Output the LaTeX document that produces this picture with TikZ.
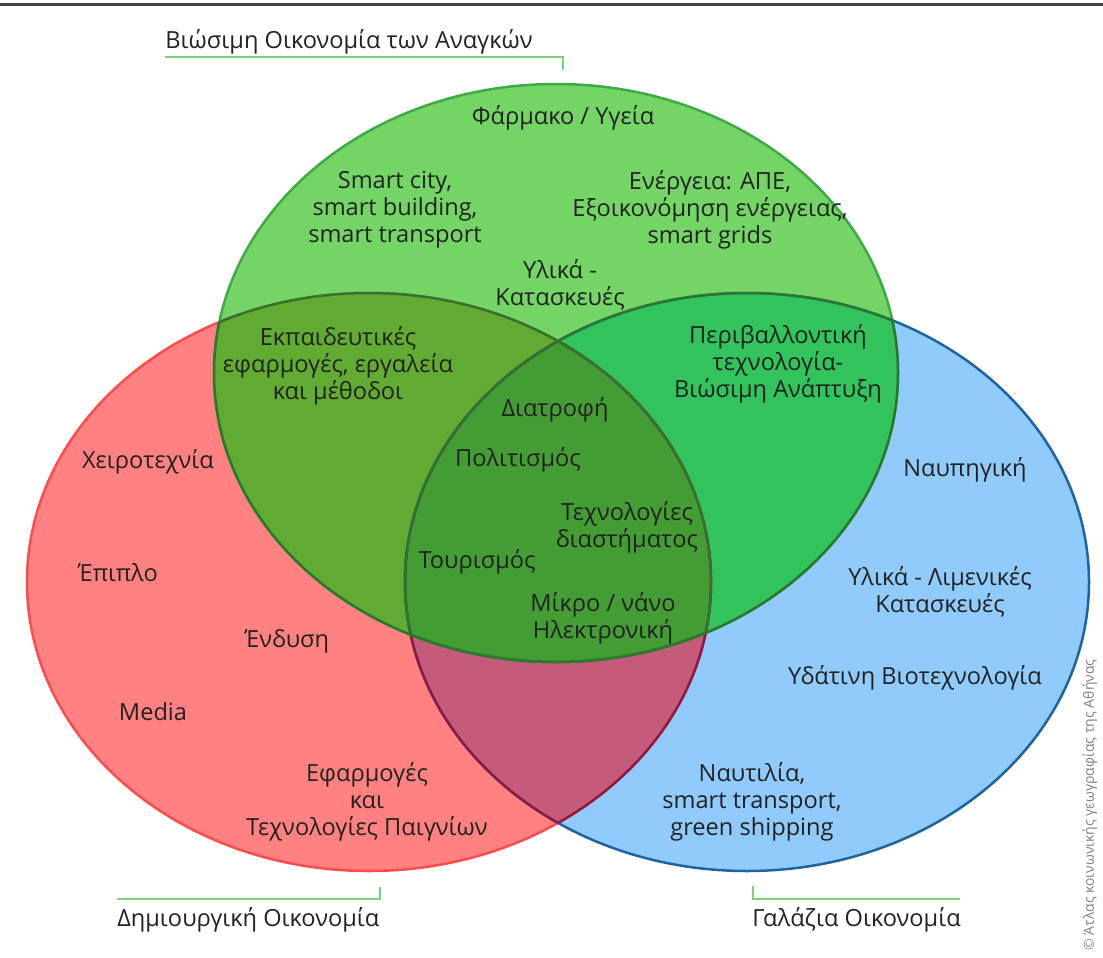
\documentclass[tikz,border=0pt]{standalone}
\usepackage{fontspec}
\setmainfont{Open Sans}
\usetikzlibrary{positioning}
\definecolor{greenOnly}{HTML}{74D466}
\definecolor{redOnly}{HTML}{FF8181}
\definecolor{blueOnly}{HTML}{91CBFB}
\definecolor{greenRed}{HTML}{62AB33}
\definecolor{greenBlue}{HTML}{32C35C}
\definecolor{redBlue}{HTML}{C55A7B}
\definecolor{allThree}{HTML}{449C35}
\definecolor{greenEdge}{HTML}{3DAA45}
\definecolor{redEdge}{HTML}{FF4B4B}
\definecolor{blueEdge}{HTML}{1E64A0}
\definecolor{darkGreenEdge}{HTML}{2A782E}
\definecolor{crimsonEdge}{HTML}{8E1A44}
\definecolor{txtGrey}{HTML}{222222}
\definecolor{ruleGrey}{HTML}{444444}
\definecolor{bracketGreen}{HTML}{7DD17D}
\tikzset{topic/.style={align=center,text=txtGrey,inner sep=0pt,
        font=\fontsize{11.8}{13.5}\selectfont},
    setName/.style={topic,anchor=base},
    edge/.style={line width=1.25pt},
    bracket/.style={draw=bracketGreen,line width=1pt},
    }
\def\greenSet{(556,373) ellipse [x radius=342,y radius=289]}
\def\redSet{(369,582) ellipse [x radius=342,y radius=289]}
\def\blueSet{(747,582) ellipse [x radius=342,y radius=289]}

\begin{document}
\begin{tikzpicture}[x=0.5pt,y=-0.5pt]
	\useasboundingbox (0,0) rectangle (1103,958);
	\draw[ruleGrey,line width=1.5pt] (0,4.5) -- (1103,4.5);
	% areas
	\fill[redOnly] \redSet;
	\fill[blueOnly] \blueSet;
	\fill[greenOnly] \greenSet;
	\begin{scope} \clip \redSet; \fill[greenRed] \greenSet; \end{scope}
	\begin{scope} \clip \greenSet; \fill[greenBlue] \blueSet; \end{scope}
	\begin{scope} \clip \redSet; \fill[redBlue] \blueSet; \end{scope}
	\begin{scope} \clip \redSet; \clip \blueSet; \fill[allThree] \greenSet; \end{scope}
	% outlines
	\draw[edge,greenEdge] \greenSet;
	\draw[edge,redEdge] \redSet;
	\draw[edge,blueEdge] \blueSet;
	\begin{scope} \clip \blueSet; \draw[edge,crimsonEdge] \redSet; \end{scope}
	\begin{scope} \clip \redSet; \draw[edge,crimsonEdge] \blueSet; \end{scope}
	\begin{scope} \clip \greenSet;
		\draw[edge,darkGreenEdge] \redSet; \draw[edge,darkGreenEdge] \blueSet;
	\end{scope}
	\begin{scope} \clip \redSet; \draw[edge,darkGreenEdge] \greenSet; \end{scope}
	\begin{scope} \clip \blueSet; \draw[edge,darkGreenEdge] \greenSet; \end{scope}

	\node[topic] (pharma) at (563,118) {Φάρμακο / Υγεία};
	\node[topic] (smartCity) at (395,210) {Smart city,\\smart building,\\smart transport};
	\node[topic] (energy) at (710,210) {Ενέργεια: ΑΠΕ,\\Εξοικονόμηση ενέργειας,\\smart grids};
	\node[topic] (materials) at (560,285) {Υλικά -\\Κατασκευές};
	\node[topic] (education) at (338,366) {Εκπαιδευτικές\\εφαρμογές, εργαλεία\\και μέθοδοι};
	\node[topic] (environment) at (778,364) {Περιβαλλοντική\\τεχνολογία-\\Βιώσιμη Ανάπτυξη};
	\node[topic] (nutrition) at (555,410) {Διατροφή};
	\node[topic] (culture) at (518,460) {Πολιτισμός};
	\node[topic] (space) at (627,527) {Τεχνολογίες\\διαστήματος};
	\node[topic] (tourism) at (477,562) {Τουρισμός};
	\node[topic] (nano) at (603,618) {Μίκρο / νάνο\\Ηλεκτρονική};
	\node[topic] (crafts) at (148,462) {Χειροτεχνία};
	\node[topic] (furniture) at (118,573) {Έπιπλο};
	\node[topic] (clothing) at (287,641) {Ένδυση};
	\node[topic] (media) at (153,712) {Media};
	\node[topic] (games) at (367,802) {Εφαρμογές\\και\\Τεχνολογίες Παιγνίων};
	\node[topic] (shipbuilding) at (965,470) {Ναυπηγική};
	\node[topic] (portWorks) at (940,592) {Υλικά - Λιμενικές\\Κατασκευές};
	\node[topic] (aquaBio) at (915,678) {Υδάτινη Βιοτεχνολογία};
	\node[topic] (shipping) at (752,802) {Ναυτιλία,\\smart transport,\\green shipping};

	% set names with their brackets
	\node[setName,anchor=base west] (titleNeeds) at (165,48) {Βιώσιμη Οικονομία των Αναγκών};
	\node[setName,anchor=base west] (titleCreative) at (117,926) {Δημιουργική Οικονομία};
	\node[setName,anchor=base west] (titleBlue) at (752,926) {Γαλάζια Οικονομία};
	\coordinate (needsEnd) at (563,57);
	\coordinate (creativeEnd) at (380,899);
	\coordinate (blueEnd) at (753,899);
	\draw[bracket] (165,57) -- (needsEnd) -- ++(0,13);
	\draw[bracket] (117,899) -- (creativeEnd) -- ++(0,-12);
	\draw[bracket] (960,899) -- (blueEnd) -- ++(0,-13);

	\node[rotate=90,text=gray,font=\fontsize{7}{8}\selectfont,inner sep=0pt] (copyright)
		at (1090,805) {© Άτλας κοινωνικής γεωγραφίας της Αθήνας};
\end{tikzpicture}
\end{document}
